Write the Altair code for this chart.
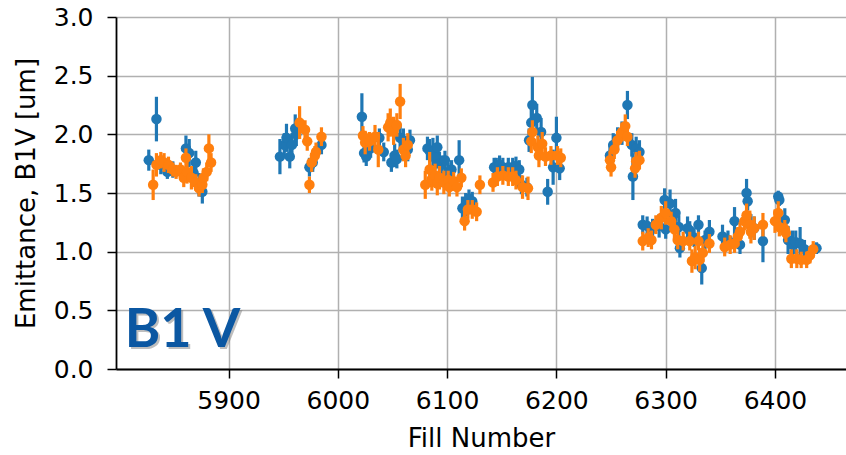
import altair as alt
import pandas as pd

blue_fill = [5827, 5834, 5838, 5844, 5849, 5861, 5864, 5868, 5870, 5873, 5876,
             5947, 5951, 5953, 5956, 5958, 5961, 5962, 5974, 5977, 5985,
             6022, 6024, 6026, 6030, 6038, 6042, 6049, 6052, 6054, 6057, 6060, 6064, 6066,
             6082, 6084, 6087, 6089, 6091, 6093, 6095, 6098, 6101, 6104, 6111, 6114, 6117, 6120, 6123,
             6143, 6145, 6148, 6151, 6156, 6160, 6163, 6166, 6168, 6173, 6175, 6177, 6178, 6182, 6186,
             6192, 6197, 6200, 6203,
             6249, 6252, 6256, 6260, 6265, 6269, 6270, 6273, 6276,
             6279, 6283, 6288, 6294, 6299, 6300, 6304, 6309, 6312, 6313, 6320, 6322, 6326, 6330,
             6333, 6336, 6340, 6352, 6357, 6363, 6368, 6374, 6375, 6378, 6381, 6389,
             6403, 6404, 6409, 6412, 6416, 6419, 6423, 6427, 6438]
blue_val = [1.78, 2.13, 1.74, 1.68, 1.70, 1.88, 1.84, 1.67, 1.76, 1.57, 1.51,
            1.81, 1.91, 1.97, 1.81, 1.91, 2.05, 2.00, 1.72, 1.76, 1.91,
            2.15, 1.84, 1.81, 1.88, 1.97, 1.85, 1.76, 1.82, 1.79, 1.97, 1.95, 1.87, 1.95,
            1.88, 1.86, 1.85, 1.80, 1.89, 1.75, 1.74, 1.78, 1.68, 1.70, 1.78, 1.37, 1.40, 1.45, 1.43,
            1.72, 1.72, 1.74, 1.72, 1.72, 1.72, 1.73, 1.70, 1.57, 1.55, 1.95, 2.10, 2.25, 2.14, 2.02,
            1.51, 1.72, 1.97, 1.71,
            1.82, 1.91, 1.96, 2.01, 2.25, 1.91, 1.64, 1.88, 1.85,
            1.23, 1.22, 1.20, 1.22, 1.44, 1.19, 1.41, 1.33, 1.21, 1.03, 1.20, 1.18, 1.12, 1.23,
            0.86, 1.10, 1.17, 1.13, 1.10, 1.26, 1.06, 1.50, 1.43, 1.22, 1.20, 1.09,
            1.47, 1.44, 1.27, 1.10, 1.06, 1.08, 1.07, 1.02, 1.03]
blue_err = [0.09, 0.19, 0.08, 0.06, 0.07, 0.11, 0.12, 0.10, 0.10, 0.10, 0.10,
            0.15, 0.10, 0.12, 0.10, 0.10, 0.12, 0.10, 0.08, 0.08, 0.08,
            0.20, 0.08, 0.08, 0.08, 0.08, 0.08, 0.08, 0.10, 0.08, 0.12, 0.10, 0.10, 0.09,
            0.10, 0.10, 0.12, 0.10, 0.10, 0.10, 0.08, 0.08, 0.08, 0.08, 0.17, 0.10, 0.10, 0.08, 0.08,
            0.08, 0.08, 0.08, 0.08, 0.08, 0.08, 0.08, 0.08, 0.08, 0.08, 0.10, 0.15, 0.24, 0.12, 0.12,
            0.11, 0.15, 0.18, 0.10,
            0.10, 0.10, 0.10, 0.10, 0.12, 0.10, 0.20, 0.10, 0.10,
            0.08, 0.08, 0.08, 0.10, 0.10, 0.08, 0.12, 0.12, 0.10, 0.08, 0.10, 0.08, 0.08, 0.08,
            0.14, 0.08, 0.10, 0.10, 0.08, 0.12, 0.08, 0.12, 0.08, 0.10, 0.10, 0.18,
            0.05, 0.05, 0.10, 0.12, 0.12, 0.10, 0.14, 0.08, 0.05]

orange_fill = [5831, 5834, 5838, 5841, 5845, 5849, 5852, 5856, 5859, 5861, 5862, 5866, 5870,
               5873, 5876, 5877, 5880, 5882, 5884,
               5965, 5970, 5972, 5974, 5976, 5979, 5980, 5985,
               6023, 6025, 6029, 6034, 6037, 6046, 6048, 6051, 6054, 6057, 6060, 6062, 6064,
               6080, 6084, 6086, 6089, 6091, 6093, 6097, 6101, 6102, 6106, 6109, 6113,
               6116, 6119, 6123, 6127, 6130,
               6142, 6146, 6151, 6156, 6160, 6163, 6169, 6174, 6177, 6178, 6183, 6184, 6187, 6190,
               6195, 6201, 6204,
               6249, 6250, 6253, 6256, 6260, 6263, 6265, 6272, 6273, 6276,
               6279, 6284, 6287, 6291, 6296, 6300, 6305, 6308, 6311, 6316, 6322, 6324, 6327,
               6330, 6331, 6334, 6340,
               6354, 6359, 6363, 6366, 6368, 6372, 6374, 6377, 6378, 6381, 6389,
               6400, 6403, 6404, 6409, 6410, 6415, 6420, 6424, 6429, 6432, 6435]
orange_val = [1.57, 1.74, 1.78, 1.76, 1.74, 1.70, 1.68, 1.70, 1.63, 1.80, 1.68, 1.63, 1.59,
              1.54, 1.57, 1.63, 1.68, 1.88, 1.76,
              2.10, 2.04, 1.94, 1.57, 1.76, 1.82, 1.85, 1.98,
              1.99, 1.93, 1.94, 1.98, 1.87, 2.06, 2.10, 2.03, 2.08, 2.28, 1.87, 1.82, 1.91,
              1.57, 1.70, 1.62, 1.65, 1.58, 1.63, 1.59, 1.61, 1.55, 1.60, 1.55, 1.63,
              1.26, 1.36, 1.36, 1.34, 1.57,
              1.59, 1.64, 1.65, 1.64, 1.64, 1.61, 1.55, 1.54, 1.94, 2.02, 1.89, 1.82, 1.92, 1.81,
              1.82, 1.82, 1.80,
              1.78, 1.72, 1.87, 1.95, 2.02, 2.07, 1.98, 1.71, 1.77, 1.78,
              1.09, 1.12, 1.10, 1.23, 1.29, 1.33, 1.26, 1.19, 1.10, 1.09, 1.09, 0.92, 0.95,
              1.09, 0.93, 0.99, 1.07,
              1.04, 1.06, 1.07, 1.13, 1.17, 1.26, 1.31, 1.23, 1.17, 1.20, 1.23,
              1.26, 1.33, 1.21, 1.19, 1.16, 0.94, 0.94, 0.93, 0.93, 0.97, 1.02]
orange_err = [0.13, 0.10, 0.07, 0.08, 0.07, 0.06, 0.06, 0.06, 0.08, 0.08, 0.10, 0.10, 0.07,
              0.07, 0.07, 0.08, 0.08, 0.12, 0.08,
              0.14, 0.08, 0.08, 0.07, 0.08, 0.08, 0.08, 0.08,
              0.08, 0.10, 0.08, 0.10, 0.15, 0.12, 0.12, 0.12, 0.10, 0.15, 0.10, 0.10, 0.10,
              0.12, 0.15, 0.10, 0.10, 0.10, 0.10, 0.10, 0.08, 0.08, 0.08, 0.08, 0.08,
              0.08, 0.08, 0.08, 0.08, 0.08,
              0.08, 0.08, 0.08, 0.08, 0.08, 0.08, 0.10, 0.10, 0.10, 0.10, 0.10, 0.10, 0.10, 0.08,
              0.08, 0.08, 0.08,
              0.08, 0.08, 0.08, 0.08, 0.08, 0.10, 0.08, 0.08, 0.08, 0.08,
              0.08, 0.08, 0.08, 0.08, 0.10, 0.10, 0.08, 0.08, 0.08, 0.08, 0.08, 0.10, 0.10,
              0.08, 0.10, 0.08, 0.08,
              0.08, 0.08, 0.08, 0.08, 0.08, 0.08, 0.10, 0.12, 0.10, 0.10, 0.10,
              0.10, 0.10, 0.08, 0.08, 0.08, 0.08, 0.08, 0.07, 0.07, 0.07, 0.07]

x_ticks = [5900, 6000, 6100, 6200, 6300, 6400]
y_ticks = [0.0, 0.5, 1.0, 1.5, 2.0, 2.5, 3.0]
label_text = ["B1 V"]
label_pos = [(5805, 0.19)]

FONT = "DejaVu Sans"
BLUE = "#1f77b4"
ORANGE = "#ff7f0e"


def frame(fill, val, err):
    df = pd.DataFrame({"fill": fill, "val": val, "err": err})
    df["lo"] = df["val"] - df["err"]
    df["hi"] = df["val"] + df["err"]
    return df


dfb = frame(blue_fill, blue_val, blue_err)
dfo = frame(orange_fill, orange_val, orange_err)

xscale = alt.Scale(domain=[5797, 6465], nice=False, zero=False)
yscale = alt.Scale(domain=[0, 3], nice=False)

common_axis = dict(
    grid=True, labelFont=FONT, titleFont=FONT, labelFontSize=25, titleFontSize=26,
    titleFontWeight="normal", labelColor="black", titleColor="black",
    domainColor="black", domainWidth=1.8, tickColor="black", tickWidth=1.5, tickSize=9,
    gridColor="#b0b0b0", gridWidth=1.5, gridOpacity=1,
)
xaxis = alt.Axis(values=x_ticks, format="d", title="Fill Number",
                 labelPadding=10, titlePadding=12, **common_axis)
yaxis = alt.Axis(values=y_ticks, format=".1f", title="Emittance, B1V [um]",
                 labelPadding=14, titlePadding=14, **common_axis)


def series(df, color):
    base = alt.Chart(df)
    bars = base.mark_rule(color=color, strokeWidth=3.2).encode(
        x=alt.X("fill:Q", scale=xscale, axis=xaxis),
        y=alt.Y("lo:Q", scale=yscale, axis=yaxis),
        y2="hi:Q",
    )
    pts = base.mark_circle(color=color, size=110, opacity=1).encode(
        x=alt.X("fill:Q", scale=xscale, axis=xaxis),
        y=alt.Y("val:Q", scale=yscale, axis=yaxis),
    )
    return bars + pts


dft = pd.DataFrame({"fill": [p[0] for p in label_pos],
                    "val": [p[1] for p in label_pos],
                    "text": label_text})

shadow = alt.Chart(dft).mark_text(font="Lato", fontSize=54, fontWeight="bold",
                                  align="left", baseline="alphabetic",
                                  color="#7f7f7f", opacity=0.5, dx=2, dy=2).encode(
    x=alt.X("fill:Q", scale=xscale), y=alt.Y("val:Q", scale=yscale), text="text:N")
label = alt.Chart(dft).mark_text(font="Lato", fontSize=54, fontWeight="bold",
                                 align="left", baseline="alphabetic",
                                 color="#0b57a2").encode(
    x=alt.X("fill:Q", scale=xscale), y=alt.Y("val:Q", scale=yscale), text="text:N")

chart = alt.layer(series(dfb, BLUE), series(dfo, ORANGE), shadow, label).properties(
    width=730, height=352,
    background="white",
    autosize=alt.AutoSizeParams(type="none"),
    padding={"left": 116, "top": 17, "right": 0, "bottom": 86},
).configure_view(stroke=None)

chart.save("out.html", embed_options={"renderer": "svg", "actions": False})
